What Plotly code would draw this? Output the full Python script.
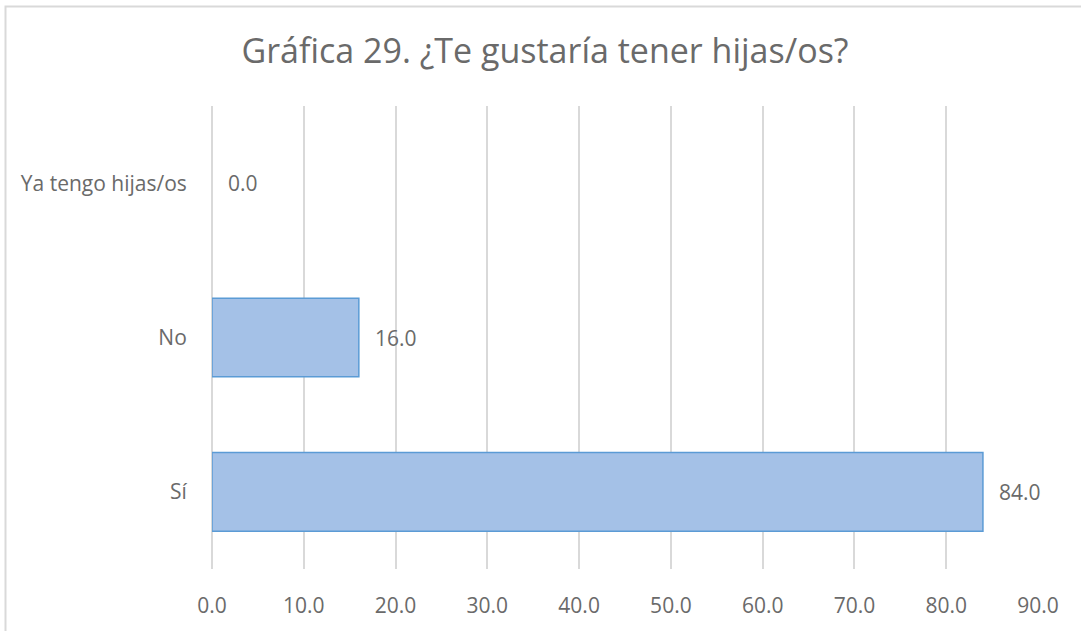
import plotly.graph_objects as go

categories = ["Sí", "No", "Ya tengo hijas/os"]
values = [84.0, 16.0, 0.0]
x_ticks = [0, 10, 20, 30, 40, 50, 60, 70, 80, 90]
title_text = "Gráfica 29. ¿Te gustaría tener hijas/os?"

W, H = 1081, 631
L, R, T, B = 212, 43, 106, 57
pw, ph = W - L - R, H - T - B

def px_x(p):
    return (p - L) / pw

def px_y(p):
    return (H - B - p) / ph

font_family = "Open Sans, sans-serif"
gray = "#6a6a6a"
fs = 21

fig = go.Figure()
fig.add_trace(go.Bar(
    y=categories,
    x=values,
    orientation="h",
    marker=dict(
        color="#a4c1e7",
        line=dict(color="#5b9bd5", width=[1.5 if v > 0 else 0 for v in values]),
    ),
    hoverinfo="skip",
))

for c, v in zip(categories, values):
    fig.add_annotation(
        x=v, y=c, text=f"{v:.1f}", showarrow=False,
        xanchor="left", xshift=14,
        font=dict(family=font_family, size=fs, color=gray),
    )

fig.add_shape(
    type="rect", xref="paper", yref="paper",
    x0=px_x(5.5), x1=px_x(1100), y0=px_y(5.5), y1=px_y(660),
    line=dict(color="#d9d9d9", width=2), fillcolor="rgba(0,0,0,0)",
    layer="below",
)

fig.update_layout(
    width=W, height=H,
    margin=dict(l=L, r=R, t=T, b=B),
    paper_bgcolor="white", plot_bgcolor="white",
    bargap=0.49,
    showlegend=False,
    title=dict(
        text=title_text, x=545 / W, xref="container", xanchor="center",
        y=1 - 51 / H, yanchor="middle", yref="container",
        font=dict(family=font_family, size=34, color=gray),
    ),
    font=dict(family=font_family, size=fs, color=gray),
)

fig.update_xaxes(
    range=[0, 90], tickvals=x_ticks, tickformat=".1f",
    showgrid=True, gridcolor="#d9d9d9", gridwidth=2,
    zeroline=True, zerolinecolor="#d9d9d9", zerolinewidth=2, showline=False,
    ticks="outside", ticklen=18, tickcolor="rgba(0,0,0,0)",
    tickfont=dict(family=font_family, size=fs, color=gray),
)
fig.update_yaxes(
    categoryorder="array", categoryarray=categories,
    showgrid=False, zeroline=False, showline=False,
    ticks="outside", ticklen=20, tickcolor="rgba(0,0,0,0)",
    tickfont=dict(family=font_family, size=fs, color=gray),
)

fig.write_html("out.html", config={"displayModeBar": False},
               post_script="document.body.style.margin='0';")
